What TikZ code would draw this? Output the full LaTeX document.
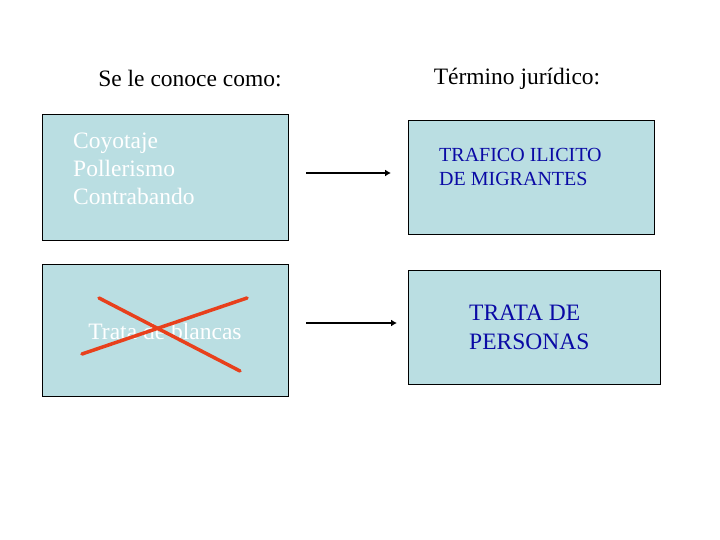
\documentclass[tikz,border=0pt]{standalone}
\usepackage{fontspec}
\setmainfont{Liberation Serif}
\usetikzlibrary{arrows.meta}
\definecolor{boxfill}{RGB}{186,222,226}
\definecolor{termblue}{RGB}{10,10,165}
\definecolor{crossred}{RGB}{232,64,28}
\tikzset{
  box/.style={draw=black, line width=1pt, fill=boxfill, inner sep=0pt, anchor=north west},
  head/.style={font=\fontsize{23.5}{28}\selectfont, anchor=center, inner sep=0pt},
  whitetxt/.style={text=white, font=\fontsize{23.5}{28}\selectfont, align=left, inner sep=0pt},
  bluetxt/.style={text=termblue, align=left, inner sep=0pt},
  conn/.style={line width=2pt, -{Latex[length=6pt,width=7pt]}},
  crossline/.style={draw=crossred, line width=3.5pt, line cap=round}
}
\begin{document}
\begin{tikzpicture}[x=1pt,y=-1pt]
\useasboundingbox (0,0) rectangle (720,540);
\fill[white] (0,0) rectangle (720,540);
% headings
\node[head] (h1) at (190,79) {Se le conoce como:};
\node[head] (h2) at (517,79) {Término jurídico:};
% boxes
\node[box, minimum width=246pt, minimum height=126pt] (b1) at (42,114) {};
\node[box, minimum width=246pt, minimum height=132pt] (b2) at (42,264) {};
\node[box, minimum width=246pt, minimum height=114pt] (b3) at (408,120) {};
\node[box, minimum width=252pt, minimum height=114pt] (b4) at (408,270) {};
% texts
\node[whitetxt, anchor=west] (t1) at (73,169) {Coyotaje\\Pollerismo\\Contrabando};
\node[whitetxt, anchor=center] (t2) at (165,331) {Trata de blancas};
\node[bluetxt, anchor=west, font=\fontsize{20}{24}\selectfont] (t3) at (439,167) {TRAFICO ILICITO\\DE MIGRANTES};
\node[bluetxt, anchor=west, font=\fontsize{23.5}{29}\selectfont] (t4) at (469,327) {TRATA DE\\PERSONAS};
% cross
\coordinate (c1) at (99,298);
\coordinate (c2) at (240,371);
\coordinate (c3) at (82,354);
\coordinate (c4) at (247,298);
\draw[crossline] (c1) -- (c2);
\draw[crossline] (c3) -- (c4);
% arrows
\coordinate (a1s) at (306,173);
\coordinate (a1e) at (391,173);
\coordinate (a2s) at (306,323);
\coordinate (a2e) at (397,323);
\draw[conn] (a1s) -- (a1e);
\draw[conn] (a2s) -- (a2e);
\end{tikzpicture}
\end{document}
